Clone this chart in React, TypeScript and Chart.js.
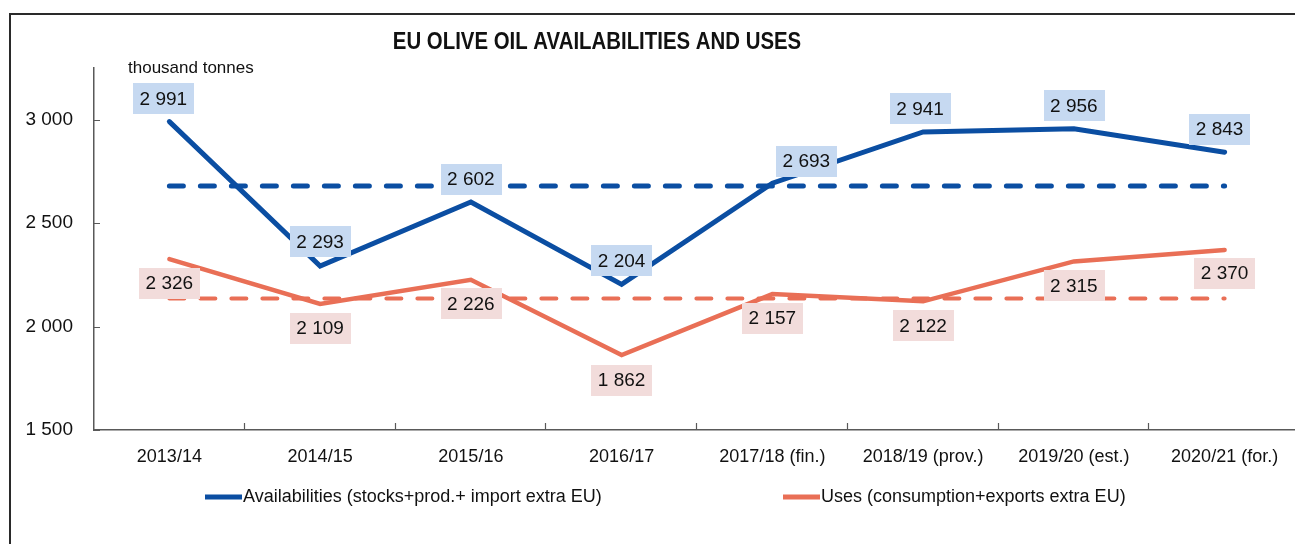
import React, { useEffect, useRef } from 'react';
import { Chart, registerables } from 'chart.js';

Chart.register(...registerables);

const categories = [
  '2013/14',
  '2014/15',
  '2015/16',
  '2016/17',
  '2017/18 (fin.)',
  '2018/19 (prov.)',
  '2019/20 (est.)',
  '2020/21 (for.)',
];
const availabilities = [2991, 2293, 2602, 2204, 2693, 2941, 2956, 2843];
const uses = [2326, 2109, 2226, 1862, 2157, 2122, 2315, 2370];
const availabilitiesAverage = [2680, 2680, 2680, 2680, 2680, 2680, 2680, 2680];
const usesAverage = [2136, 2136, 2136, 2136, 2136, 2136, 2136, 2136];
const yTickValues = [1500, 2000, 2500, 3000];
const titleText = 'EU OLIVE OIL AVAILABILITIES AND USES';
const unitText = 'thousand tonnes';
const legendLabels = [
  'Availabilities (stocks+prod.+ import extra EU)',
  'Uses (consumption+exports extra EU)',
];

// label placement (pixel shifts relative to the point) – layout only
const availLabelShift = [
  [-6, -23], [0, -24], [0, -23], [0, -24], [34, -22], [-3, -23], [0, -23], [-5, -23],
];
const usesLabelShift = [
  [0, 24], [0, 24], [0, 24], [0, 25], [0, 24], [0, 24], [0, 24], [0, 23],
];

const BLUE = '#0b4ea2';
const RED = '#e96f56';
const BLUE_BG = '#c6d9f1';
const RED_BG = '#f2dcdb';
const AXIS = '#595959';
const TEXT = '#111111';
const FONT = '"Liberation Sans", Arial, sans-serif';

const fmt = (v: number) => String(v).replace(/\B(?=(\d{3})+(?!\d))/g, ' ');

const decorPlugin = {
  id: 'decor',
  beforeDraw(chart: any) {
    const ctx = chart.ctx;
    ctx.save();
    ctx.strokeStyle = '#2a2a2a';
    ctx.lineWidth = 2;
    ctx.beginPath();
    ctx.moveTo(2, chart.height + 10);
    ctx.lineTo(2, 6);
    ctx.lineTo(chart.width + 10, 6);
    ctx.stroke();
    ctx.restore();
  },
  afterDatasetsDraw(chart: any) {
    const ctx = chart.ctx;
    const drawBox = (text: string, x: number, y: number, bg: string) => {
      ctx.font = `19px ${FONT}`;
      const w = ctx.measureText(text).width + 13;
      const h = 31;
      ctx.fillStyle = bg;
      ctx.fillRect(Math.round(x - w / 2), Math.round(y - h / 2), Math.round(w), h);
      ctx.fillStyle = TEXT;
      ctx.textAlign = 'center';
      ctx.textBaseline = 'middle';
      ctx.fillText(text, x, y + 1);
    };
    ctx.save();
    const m0 = chart.getDatasetMeta(0);
    const m1 = chart.getDatasetMeta(1);
    m0.data.forEach((p: any, i: number) => {
      drawBox(fmt(availabilities[i]), p.x + availLabelShift[i][0], p.y + availLabelShift[i][1], BLUE_BG);
    });
    m1.data.forEach((p: any, i: number) => {
      drawBox(fmt(uses[i]), p.x + usesLabelShift[i][0], p.y + usesLabelShift[i][1], RED_BG);
    });
    ctx.restore();
  },
  afterDraw(chart: any) {
    const ctx = chart.ctx;
    const area = chart.chartArea;
    const xs = chart.scales.x;
    const ys = chart.scales.y;
    ctx.save();
    // inner tick marks
    ctx.strokeStyle = AXIS;
    ctx.lineWidth = 1.2;
    ctx.beginPath();
    yTickValues.forEach((v) => {
      const y = Math.round(ys.getPixelForValue(v)) + 0.5;
      ctx.moveTo(area.left, y);
      ctx.lineTo(area.left + 6, y);
    });
    const step = (area.right - area.left) / categories.length;
    for (let i = 1; i <= categories.length; i++) {
      const x = Math.round(area.left + i * step) - 0.5;
      ctx.moveTo(x, area.bottom);
      ctx.lineTo(x, area.bottom - 7);
    }
    ctx.stroke();

    // title (slightly condensed bold)
    ctx.save();
    ctx.font = `bold 24px ${FONT}`;
    ctx.fillStyle = TEXT;
    ctx.textAlign = 'center';
    ctx.textBaseline = 'middle';
    ctx.translate(589, 34);
    ctx.scale(0.85, 1);
    ctx.fillText(titleText, 0, 0);
    ctx.restore();

    // unit
    ctx.font = `17px ${FONT}`;
    ctx.fillStyle = TEXT;
    ctx.textAlign = 'left';
    ctx.textBaseline = 'middle';
    ctx.fillText(unitText, 120, 60);

    // legend
    const legendY = 489;
    const items = [
      { x: 197, color: BLUE, w: 5, text: legendLabels[0] },
      { x: 775, color: RED, w: 5, text: legendLabels[1] },
    ];
    items.forEach((it) => {
      ctx.strokeStyle = it.color;
      ctx.lineWidth = it.w;
      ctx.lineCap = 'butt';
      ctx.beginPath();
      ctx.moveTo(it.x, legendY);
      ctx.lineTo(it.x + 37, legendY);
      ctx.stroke();
      ctx.fillStyle = TEXT;
      ctx.font = `18px ${FONT}`;
      ctx.textAlign = 'left';
      ctx.textBaseline = 'middle';
      ctx.fillText(it.text, it.x + 38, legendY);
    });
    ctx.restore();
  },
};

export default function App() {
  const ref = useRef<HTMLCanvasElement | null>(null);

  useEffect(() => {
    if (!ref.current) return;
    const chart = new Chart(ref.current, {
      type: 'line',
      data: {
        labels: categories,
        datasets: [
          {
            label: legendLabels[0],
            data: availabilities,
            borderColor: BLUE,
            borderWidth: 5,
            pointRadius: 0,
            tension: 0,
            borderCapStyle: 'round',
            borderJoinStyle: 'miter',
            fill: false,
          },
          {
            label: legendLabels[1],
            data: uses,
            borderColor: RED,
            borderWidth: 4.5,
            pointRadius: 0,
            tension: 0,
            borderCapStyle: 'round',
            borderJoinStyle: 'miter',
            fill: false,
          },
          {
            label: 'Availabilities average',
            data: availabilitiesAverage,
            borderColor: BLUE,
            borderWidth: 5,
            borderDash: [14, 17],
            borderCapStyle: 'round',
            pointRadius: 0,
            fill: false,
          },
          {
            label: 'Uses average',
            data: usesAverage,
            borderColor: RED,
            borderWidth: 4,
            borderDash: [15, 16],
            borderCapStyle: 'round',
            pointRadius: 0,
            fill: false,
          },
        ],
      },
      options: {
        responsive: false,
        animation: false,
        layout: { padding: { top: 60, right: 3, bottom: 0, left: 0 } },
        plugins: {
          legend: { display: false },
          tooltip: { enabled: false },
          title: { display: false },
        },
        scales: {
          x: {
            type: 'category',
            offset: true,
            grid: { display: false, drawTicks: false, offset: true },
            border: { display: true, color: AXIS, width: 1.5 },
            ticks: {
              color: TEXT,
              font: { family: FONT, size: 18 },
              padding: 16,
              maxRotation: 0,
              autoSkip: false,
            },
            afterFit(s: any) {
              s.height = 114;
            },
          },
          y: {
            min: 1500,
            max: 3250,
            afterBuildTicks(s: any) {
              s.ticks = yTickValues.map((v) => ({ value: v }));
            },
            grid: { display: false, drawTicks: false },
            border: { display: true, color: AXIS, width: 1.5 },
            ticks: {
              color: TEXT,
              font: { family: FONT, size: 19 },
              padding: 21,
              callback: (v: any) => fmt(Number(v)),
            },
            afterFit(s: any) {
              s.width = 86;
            },
          },
        },
      },
      plugins: [decorPlugin],
    });
    return () => chart.destroy();
  }, []);

  return (
    <div style={{ width: 1295, height: 536, overflow: 'hidden' }}>
      <canvas ref={ref} width={1295} height={536} style={{ display: 'block' }} />
    </div>
  );
}
